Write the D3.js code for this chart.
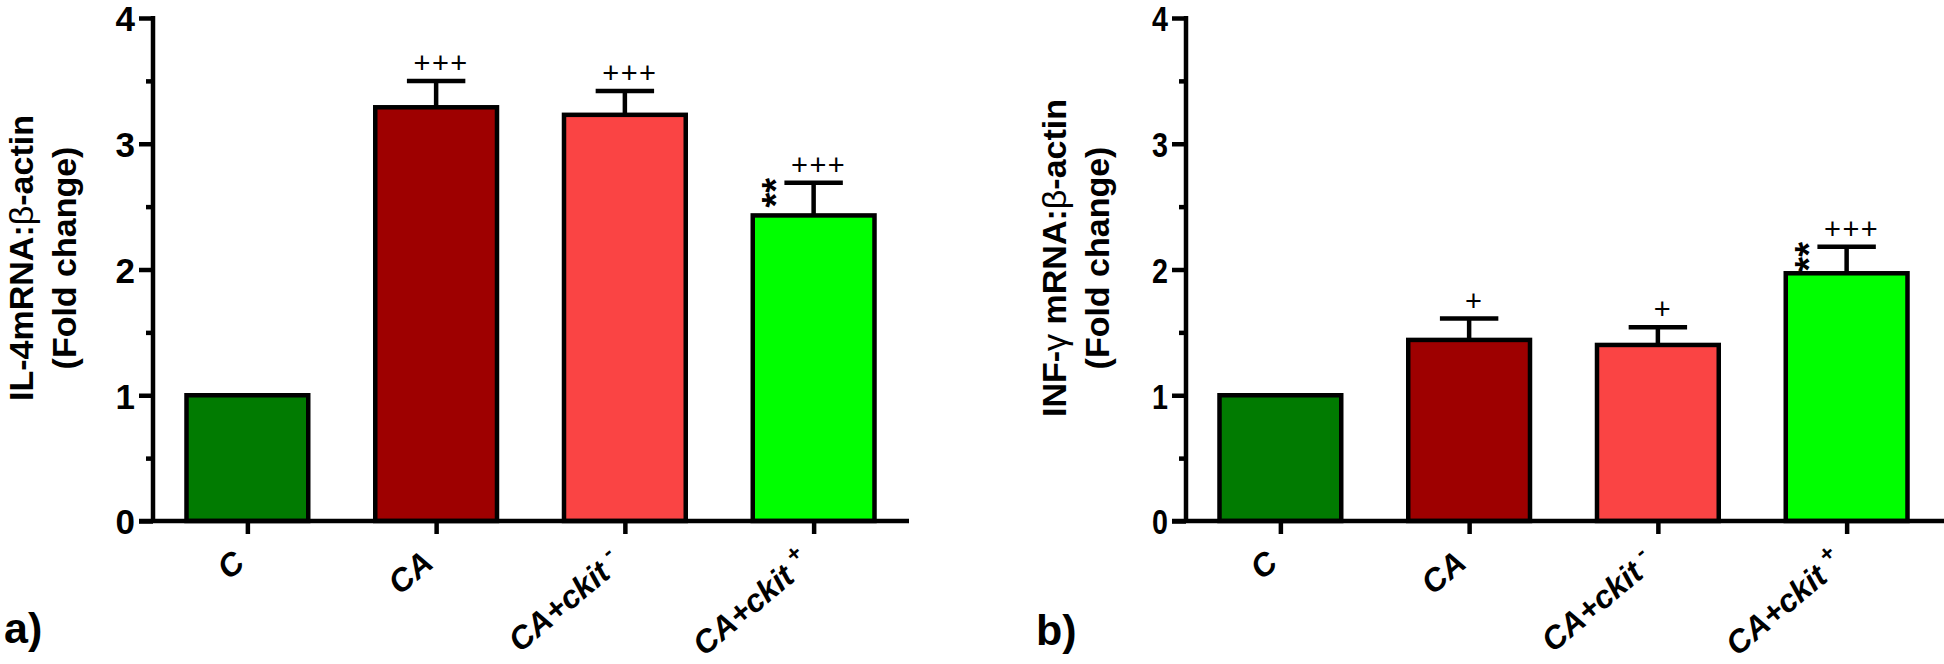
<!DOCTYPE html>
<html><head><meta charset="utf-8">
<script src="https://cdn.jsdelivr.net/npm/d3@7"></script>
<style>
body{margin:0;background:#fff}
svg{display:block}
text{font-family:"Liberation Sans",Arial,Helvetica,sans-serif;fill:#000}
</style>
</head><body>
<svg id="chart" width="1944" height="664"></svg>
<script>
// ---- data ----
const categories = ["C", "CA", "CA+ckit", "CA+ckit"];
const categorySup = ["", "", "-", "+"];
const barColors = ["#017B01", "#9E0000", "#FA4444", "#00FF00"];
const il4Means = [1.0, 3.29, 3.23, 2.43];
const il4Errors = [0, 0.21, 0.19, 0.26];
const il4Plus = ["", "+++", "+++", "+++"];
const il4Stars = ["", "", "", "**"];
const infMeans = [1.0, 1.44, 1.40, 1.97];
const infErrors = [0, 0.17, 0.14, 0.21];
const infPlus = ["", "+", "+", "+++"];
const infStars = ["", "", "", "**"];
const yTicks = [0, 1, 2, 3, 4];
const yMinorTicks = [0.5, 1.5, 2.5, 3.5];
const yLabelA = ["IL-4mRNA:", "β", "-actin"];
const yLabelB = ["INF-", "γ", " mRNA:", "β", "-actin"];
const yLabel2 = "(Fold change)";
const panelLetters = ["a)", "b)"];

// ---- drawing ----
const svg = d3.select("#chart");
const SW = 4.5;

const panels = [
  {axisX: 153, right: 908, axisEnd: 909, means: il4Means, errs: il4Errors, plus: il4Plus, stars: il4Stars,
   label: yLabelA, letter: panelLetters[0], letterX: 4, letterY: 643, tickScale: 1},
  {axisX: 1186, right: 1941, axisEnd: 1944, means: infMeans, errs: infErrors, plus: infPlus, stars: infStars,
   label: yLabelB, letter: panelLetters[1], letterX: 1036, letterY: 645, tickScale: 0.82}
];

const y = d3.scaleLinear().domain([0, 4]).range([521, 18]);

panels.forEach(p => {
  const g = svg.append("g");
  const x = d3.scalePoint().domain(d3.range(categories.length)).range([p.axisX, p.right]).padding(0.5);
  const bw = x.step() * 0.645;

  // bars
  g.selectAll("rect.bar").data(p.means).join("rect")
    .attr("x", (d, i) => x(i) - bw / 2)
    .attr("width", bw)
    .attr("y", d => y(d))
    .attr("height", d => y(0) - y(d))
    .attr("fill", (d, i) => barColors[i])
    .attr("stroke", "#000").attr("stroke-width", SW);

  // error bars (upper only)
  const capW = bw * 0.48;
  p.means.forEach((m, i) => {
    if (!p.errs[i]) return;
    const top = y(m + p.errs[i]);
    g.append("line").attr("x1", x(i)).attr("x2", x(i)).attr("y1", y(m)).attr("y2", top)
      .attr("stroke", "#000").attr("stroke-width", SW);
    g.append("line").attr("x1", x(i) - capW / 2).attr("x2", x(i) + capW / 2).attr("y1", top).attr("y2", top)
      .attr("stroke", "#000").attr("stroke-width", SW);
    if (p.plus[i]) {
      g.append("text").attr("x", x(i) + 5).attr("y", top - 8)
        .attr("text-anchor", "middle").attr("font-size", 29).attr("letter-spacing", 1.5)
        .text(p.plus[i]);
    }
    if (p.stars[i]) {
      const sx = x(i) - 25, sy = top + 10;
      g.append("text").attr("transform", `translate(${sx},${sy}) rotate(-90)`)
        .attr("text-anchor", "middle").attr("font-size", 38).attr("font-weight", "bold")
        .text(p.stars[i]);
    }
  });

  // y axis
  const yAxis = d3.axisLeft(y).tickValues(yTicks).tickSize(14).tickSizeOuter(0).tickPadding(4).tickFormat(d3.format("d"));
  const ya = g.append("g").attr("transform", `translate(${p.axisX},0)`).call(yAxis);
  ya.select(".domain").remove();
  ya.selectAll(".tick line").attr("stroke", "#000").attr("stroke-width", SW);
  ya.selectAll(".tick text")
    .attr("font-size", 35).attr("font-weight", "bold").attr("font-family", "'Liberation Sans',Arial,sans-serif")
    .attr("fill", "#000").attr("dy", "0.37em")
    .attr("transform", `scale(${p.tickScale},1)`)
    .attr("x", -18 / p.tickScale);
  const yMinor = d3.axisLeft(y).tickValues(yMinorTicks).tickSize(7).tickSizeOuter(0).tickFormat("");
  const ym = g.append("g").attr("transform", `translate(${p.axisX},0)`).call(yMinor);
  ym.select(".domain").remove();
  ym.selectAll(".tick line").attr("stroke", "#000").attr("stroke-width", SW);
  g.append("line").attr("x1", p.axisX).attr("x2", p.axisX).attr("y1", y(4) - 2).attr("y2", y(0))
    .attr("stroke", "#000").attr("stroke-width", SW);

  // x axis
  const xAxis = d3.axisBottom(x).tickSize(13).tickSizeOuter(0).tickFormat("");
  const xa = g.append("g").attr("transform", `translate(0,${y(0)})`).call(xAxis);
  xa.select(".domain").remove();
  xa.selectAll(".tick line").attr("stroke", "#000").attr("stroke-width", SW);
  g.append("line").attr("x1", p.axisX - 14).attr("x2", p.axisEnd).attr("y1", y(0)).attr("y2", y(0))
    .attr("stroke", "#000").attr("stroke-width", SW);

  // x labels
  categories.forEach((c, i) => {
    const t = g.append("text")
      .attr("transform", `translate(${x(i) - 1},${y(0) + 45}) rotate(-40)`)
      .attr("text-anchor", "end").attr("font-size", 32).attr("font-weight", "bold").attr("font-style", "italic");
    t.append("tspan").text(c);
    if (categorySup[i]) {
      t.append("tspan").attr("dx", 8).attr("dy", -14).attr("font-size", 23).text(categorySup[i]);
    }
  });

  // y label
  const lab = g.append("text").attr("transform", `translate(${p.axisX - 120},258) rotate(-90)`)
    .attr("text-anchor", "middle").attr("font-size", 34).attr("font-weight", "bold");
  p.label.forEach(s => {
    const ts = lab.append("tspan").text(s);
    if (s === "β" || s === "γ") ts.attr("font-weight", "normal");
  });
  g.append("text").attr("transform", `translate(${p.axisX - 77},258) rotate(-90)`)
    .attr("text-anchor", "middle").attr("font-size", 34).attr("font-weight", "bold").text(yLabel2);

  // panel letter
  g.append("text").attr("x", p.letterX).attr("y", p.letterY).attr("font-size", 43).attr("font-weight", "bold").text(p.letter);
});
</script>
</body></html>
